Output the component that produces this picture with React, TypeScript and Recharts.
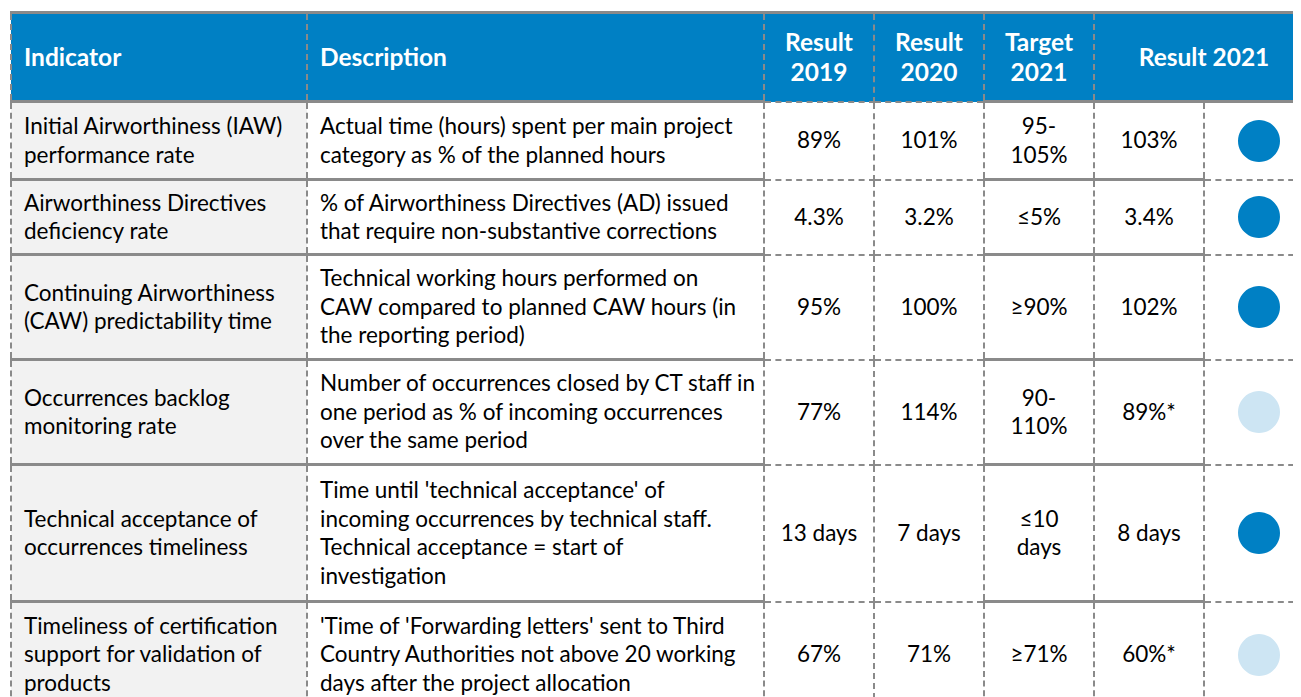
import React from "react";
import { PieChart, Pie, Cell } from "recharts";

const indicators = [
  "Initial Airworthiness (IAW)\nperformance rate",
  "Airworthiness Directives\ndeficiency rate",
  "Continuing Airworthiness\n(CAW) predictability time",
  "Occurrences backlog\nmonitoring rate",
  "Technical acceptance of\noccurrences timeliness",
  "Timeliness of certification\nsupport for validation of\nproducts",
];

const descriptions = [
  "Actual time (hours) spent per main project\ncategory as % of the planned hours",
  "% of Airworthiness Directives (AD) issued\nthat require non-substantive corrections",
  "Technical working hours performed on\nCAW compared to planned CAW hours (in\nthe reporting period)",
  "Number of occurrences closed by CT staff in\none period as % of incoming occurrences\nover the same period",
  "Time until 'technical acceptance' of\nincoming occurrences by technical staff.\nTechnical acceptance = start of\ninvestigation",
  "'Time of 'Forwarding letters' sent to Third\nCountry Authorities not above 20 working\ndays after the project allocation",
];

const result2019 = ["89%", "4.3%", "95%", "77%", "13 days", "67%"];
const result2020 = ["101%", "3.2%", "100%", "114%", "7 days", "71%"];
const target2021 = ["95-\n105%", "≤5%", "≥90%", "90-\n110%", "≤10\ndays", "≥71%"];
const result2021 = ["103%", "3.4%", "102%", "89%*", "8 days", "60%*"];
const status2021 = ["met", "met", "met", "notMet", "met", "notMet"];

const headers = ["Indicator", "Description", "Result\n2019", "Result\n2020", "Target\n2021", "Result 2021"];

const BLUE = "#0080C4";
const LIGHT = "#CDE5F3";
const LINE = "#8a8a8a";
const rowHeights = [78, 75, 105, 105, 137, 106];
const colWidths = [296, 457, 110, 110, 110, 110, 110];

const dashed = `2px dashed ${LINE}`;
const solid = `3px solid ${LINE}`;

function StatusDot({ status }: { status: string }) {
  const data = [{ name: status, value: 1 }];
  return (
    <PieChart width={50} height={50} style={{ margin: "0 auto" }}>
      <Pie
        data={data}
        dataKey="value"
        cx="50%"
        cy="50%"
        outerRadius={21}
        innerRadius={0}
        stroke="none"
        isAnimationActive={false}
      >
        {data.map((d, i) => (
          <Cell key={i} fill={d.name === "met" ? BLUE : LIGHT} />
        ))}
      </Pie>
    </PieChart>
  );
}

export default function App() {
  const base: React.CSSProperties = {
    fontFamily: "Lato, 'Open Sans', sans-serif",
    fontSize: 22.5,
    lineHeight: "28.5px",
    color: "#000",
    whiteSpace: "pre-line",
    padding: 0,
    borderLeft: dashed,
    borderRight: dashed,
  };
  const head: React.CSSProperties = {
    ...base,
    background: BLUE,
    color: "#fff",
    fontWeight: 700,
    fontSize: 24.5,
    lineHeight: "30px",
    height: 86,
    textAlign: "center",
    borderTop: solid,
  };
  const hb = (s: string) => ({ borderBottom: s });
  const cols = [result2019, result2020, target2021, result2021];
  const colLines = [dashed, dashed, solid, solid];

  return (
    <div style={{ marginLeft: 2, marginTop: 3, width: 1303, overflow: "visible" }}>
      <table style={{ borderCollapse: "collapse", tableLayout: "fixed", width: 1303 }}>
        <colgroup>
          {colWidths.map((w, i) => (
            <col key={i} style={{ width: w }} />
          ))}
        </colgroup>
        <thead>
          <tr>
            <th style={{ ...head, ...hb(solid), textAlign: "left", paddingLeft: 12 }}>{headers[0]}</th>
            <th style={{ ...head, ...hb(solid), textAlign: "left", paddingLeft: 12 }}>{headers[1]}</th>
            <th style={{ ...head, ...hb(dashed) }}>{headers[2]}</th>
            <th style={{ ...head, ...hb(dashed) }}>{headers[3]}</th>
            <th style={{ ...head, ...hb(solid) }}>{headers[4]}</th>
            <th colSpan={2} style={{ ...head, ...hb(solid) }}>{headers[5]}</th>
          </tr>
        </thead>
        <tbody>
          {indicators.map((ind, r) => (
            <tr key={r} style={{ height: rowHeights[r] }}>
              <td style={{ ...base, background: "#F2F2F2", paddingLeft: 12, borderBottom: solid }}>{ind}</td>
              <td style={{ ...base, paddingLeft: 12, borderBottom: solid }}>{descriptions[r]}</td>
              {cols.map((c, k) => (
                <td key={k} style={{ ...base, textAlign: "center", borderBottom: colLines[k] }}>
                  {c[r]}
                </td>
              ))}
              <td style={{ ...base, borderBottom: dashed, borderTop: r === 0 ? dashed : undefined }}>
                <StatusDot status={status2021[r]} />
              </td>
            </tr>
          ))}
        </tbody>
      </table>
    </div>
  );
}
